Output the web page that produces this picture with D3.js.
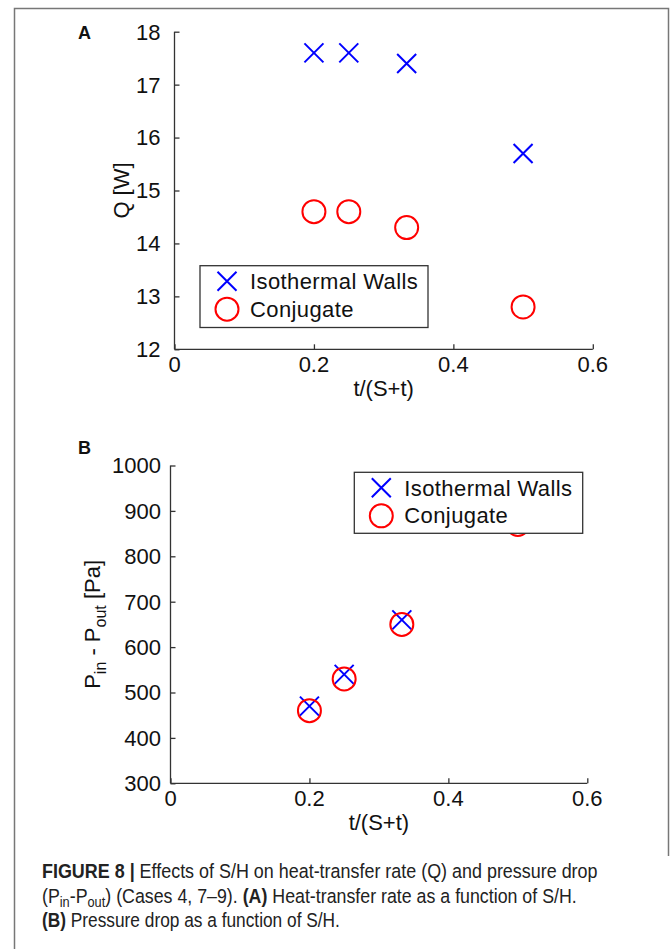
<!DOCTYPE html>
<html>
<head>
<meta charset="utf-8">
<script src="https://cdn.jsdelivr.net/npm/d3@7"></script>
<style>
  html, body { margin: 0; padding: 0; background: #fff; }
  svg { display: block; }
  text { font-family: "Liberation Sans", Arial, Helvetica, sans-serif; fill: #111; }
</style>
</head>
<body>
<svg id="fig" width="672" height="949"></svg>
<script>
// t/(S+t) values shared by both panels
const ratio = [0.2, 0.25, 0.333, 0.5];
// Panel A: heat-transfer rate Q [W]
const qIsothermal = [17.6, 17.6, 17.4, 15.7];
const qConjugate = [14.6, 14.6, 14.3, 12.8];
// Panel B: pressure drop P_in - P_out [Pa]
const dpIsothermal = [470, 540, 660, 880];
const dpConjugate = [460, 530, 650, 870];
// Axis ticks
const xTicks = [0, 0.2, 0.4, 0.6];
const qTicks = [12, 13, 14, 15, 16, 17, 18];
const dpTicks = [300, 400, 500, 600, 700, 800, 900, 1000];
const seriesNames = ["Isothermal Walls", "Conjugate"];

const svg = d3.select("#fig");
const BLUE = "#0000ff", RED = "#ff0000", AXIS = "#333";
const XS = 9.5, R = 11.5;

// outer frame
svg.append("path")
  .attr("d", "M14.5,949 V8.5 H668.5 V856")
  .attr("fill", "none").attr("stroke", "#777").attr("stroke-width", 1.5);

function drawX(g, cx, cy) {
  g.append("path")
    .attr("d", `M${cx - XS},${cy - XS}L${cx + XS},${cy + XS}M${cx - XS},${cy + XS}L${cx + XS},${cy - XS}`)
    .attr("stroke", BLUE).attr("stroke-width", 2).attr("fill", "none");
}
function drawO(g, cx, cy) {
  g.append("circle").attr("cx", cx).attr("cy", cy).attr("r", R)
    .attr("stroke", RED).attr("stroke-width", 2).attr("fill", "none");
}

function panel(cfg) {
  const g = svg.append("g");
  const x = d3.scaleLinear().domain([0, 0.6]).range([cfg.left, cfg.right]);
  const y = d3.scaleLinear().domain(cfg.yDomain).range([cfg.bottom, cfg.top]);

  // y axis with inward ticks
  const ya = g.append("g").attr("transform", `translate(${cfg.left},0)`)
    .call(d3.axisRight(y).tickValues(cfg.yTicks).tickSize(5).tickFormat(""));
  ya.select(".domain").attr("d", `M0,${cfg.top}V${cfg.bottom}`);
  // x axis with inward ticks
  const xa = g.append("g").attr("transform", `translate(0,${cfg.bottom})`)
    .call(d3.axisTop(x).tickValues(xTicks).tickSize(5).tickFormat(""));
  xa.select(".domain").attr("d", `M${cfg.left},0H${cfg.right}`);
  g.selectAll(".domain, .tick line").attr("stroke", AXIS).attr("stroke-width", 1.3);

  // tick labels
  g.selectAll(".ylab").data(cfg.yTicks).join("text")
    .attr("x", cfg.yLabX).attr("y", d => y(d)).attr("dy", "0.36em")
    .attr("text-anchor", "end").attr("font-size", 22).text(d => d);
  g.selectAll(".xlab").data(xTicks).join("text")
    .attr("x", d => x(d)).attr("y", cfg.bottom + 22.5)
    .attr("text-anchor", "middle").attr("font-size", 22).text(d => d);

  // axis titles
  g.append("text").attr("x", (cfg.left + cfg.right) / 2).attr("y", cfg.bottom + 46.5)
    .attr("text-anchor", "middle").attr("font-size", 22).text("t/(S+t)");
  cfg.yTitle(g, y);

  // panel letter
  g.append("text").attr("x", 78).attr("y", cfg.letterY).attr("font-size", 18)
    .attr("font-weight", "bold").text(cfg.letter);

  // data markers
  cfg.iso.forEach((v, i) => drawX(g, x(ratio[i]), y(v)));
  cfg.conj.forEach((v, i) => drawO(g, x(ratio[i]), y(v)));

  // legend
  const L = cfg.legend;
  const lg = g.append("g");
  lg.append("rect").attr("x", L.x).attr("y", L.y).attr("width", L.w).attr("height", L.h)
    .attr("fill", "#fff").attr("stroke", "#333").attr("stroke-width", 1.3);
  drawX(lg, L.x + 27, L.y + 15.5);
  drawO(lg, L.x + 27, L.y + 43.5);
  lg.append("text").attr("x", L.x + 50).attr("y", L.y + 23.5).attr("font-size", 22)
    .attr("letter-spacing", 0.4).text(seriesNames[0]);
  lg.append("text").attr("x", L.x + 50).attr("y", L.y + 51).attr("font-size", 22)
    .attr("letter-spacing", 0.4).text(seriesNames[1]);
}

panel({
  letter: "A", letterY: 38.5,
  left: 174.5, right: 592.8, top: 31.7, bottom: 349.3,
  yDomain: [12, 18], yTicks: qTicks, yLabX: 160.5,
  iso: qIsothermal, conj: qConjugate,
  legend: { x: 200, y: 265.7, w: 228, h: 61.8 },
  yTitle: (g, y) => {
    g.append("text").attr("transform", `translate(128.5,${(y(12) + y(18)) / 2}) rotate(-90)`)
      .attr("text-anchor", "middle").attr("font-size", 22).text("Q [W]");
  }
});

panel({
  letter: "B", letterY: 453.5,
  left: 170.5, right: 587.3, top: 465.5, bottom: 783.3,
  yDomain: [300, 1000], yTicks: dpTicks, yLabX: 161,
  iso: dpIsothermal, conj: dpConjugate,
  legend: { x: 354.3, y: 472.3, w: 228.4, h: 61 },
  yTitle: (g, y) => {
    const t = g.append("text")
      .attr("transform", `translate(100,${(y(300) + y(1000)) / 2}) rotate(-90)`)
      .attr("text-anchor", "middle").attr("font-size", 22);
    t.append("tspan").text("P");
    t.append("tspan").attr("font-size", 16).attr("dy", 6).text("in");
    t.append("tspan").attr("dy", -6).text(" - P");
    t.append("tspan").attr("font-size", 16).attr("dy", 6).text("out");
    t.append("tspan").attr("dy", -6).text(" [Pa]");
  }
});

// figure caption: each line is squeezed horizontally to a condensed width
const cap = svg.append("g");
function capLine(y, width, parts) {
  const g = cap.append("g");
  const t = g.append("text").attr("x", 0).attr("y", 0)
    .attr("font-size", 19.5).style("fill", "#222");
  parts.forEach(p => {
    const s = t.append("tspan").text(p.t);
    if (p.b) s.attr("font-weight", "bold");
    if (p.sub) s.attr("font-size", 14).attr("dy", 4);
    if (p.up) s.attr("dy", -4);
  });
  const natural = t.node().getComputedTextLength();
  g.attr("transform", `translate(42,${y}) scale(${width / natural},1)`);
}
capLine(878, 556, [
  { t: "FIGURE 8 |", b: true },
  { t: " Effects of S/H on heat-transfer rate (Q) and pressure drop" }
]);
capLine(903, 535, [
  { t: "(P" }, { t: "in", sub: true }, { t: "-P", up: true }, { t: "out", sub: true },
  { t: ") (Cases 4, 7–9). ", up: true }, { t: "(A)", b: true },
  { t: " Heat-transfer rate as a function of S/H." }
]);
capLine(927, 298, [
  { t: "(B)", b: true }, { t: " Pressure drop as a function of S/H." }
]);
</script>
</body>
</html>
